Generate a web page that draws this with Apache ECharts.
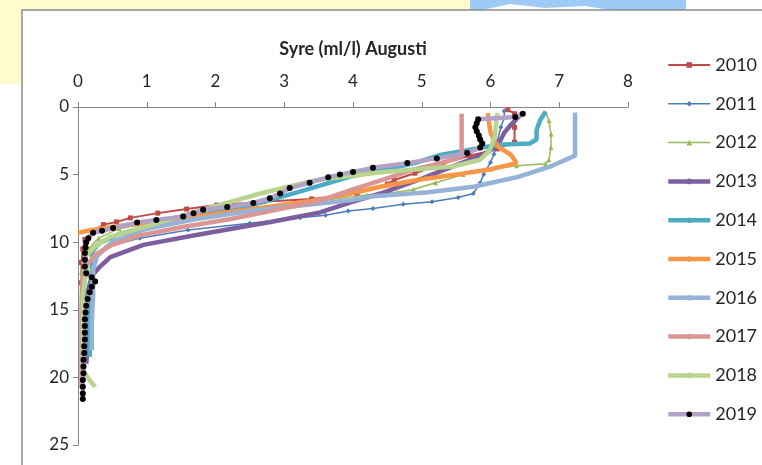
<!DOCTYPE html>
<html>
<head>
<meta charset="utf-8">
<script src="https://cdn.jsdelivr.net/npm/echarts@6/dist/echarts.min.js"></script>
<style>
  html, body { margin: 0; padding: 0; background: #fff; }
  #chart { width: 762px; height: 465px; }
</style>
</head>
<body>
<div id="chart"></div>
<script>
// Years shown in the legend
const years = ['2010', '2011', '2012', '2013', '2014', '2015', '2016', '2017', '2018', '2019'];

// Tick labels of the axes
const oxygenTicks = [0, 1, 2, 3, 4, 5, 6, 7, 8];
const depthTicks = [0, 5, 10, 15, 20, 25];

// Profiles: [oxygen (ml/l), depth (m)]
const p2010 = [[6.25, 0.2], [6.35, 0.5], [6.35, 1.5], [6.35, 2.6], [6.1, 3.1], [5.7, 3.6], [5.3, 4.2], [4.9, 4.9],
    [4.6, 5.4], [4.5, 5.7], [4.06, 6.4], [3.4, 6.8], [2.7, 7.0], [2.02, 7.25], [1.58, 7.55], [1.16, 7.85],
    [0.76, 8.2], [0.56, 8.5], [0.37, 8.7], [0.22, 9.2], [0.1, 9.8], [0.07, 10.5], [0.05, 11.5], [0.05, 13]];
const p2011 = [[6.2, 0.3], [6.2, 0.8], [6.15, 1.5], [6.1, 2.5], [6.05, 3.5], [6.0, 4.1], [5.9, 5.0], [5.85, 5.6],
    [5.75, 6.4], [5.53, 6.7], [5.15, 7.0], [4.73, 7.2], [4.29, 7.5], [3.93, 7.7], [3.6, 8.0], [3.23, 8.2],
    [2.5, 8.6], [1.6, 9.1], [0.9, 9.7], [0.4, 10.4], [0.2, 11], [0.12, 12], [0.1, 14], [0.1, 16], [0.1, 18]];
const p2012 = [[6.8, 0.4], [6.85, 1.0], [6.88, 2.0], [6.88, 3.0], [6.85, 3.9], [6.8, 4.2], [6.38, 4.35], [6.0, 4.6],
    [5.6, 5.0], [5.2, 5.6], [4.88, 6.1], [4.64, 6.3], [4.2, 6.5], [3.4, 7.0], [2.6, 7.5], [1.8, 8.0],
    [1.1, 8.5], [0.6, 9.0], [0.3, 9.7], [0.15, 10.5], [0.1, 11.5], [0.05, 12.2], [0.08, 14], [0.1, 16],
    [0.1, 18], [0.08, 19.5]];
const p2013 = [[6.46, 0.45], [6.3, 1.3], [6.2, 1.9], [6.1, 2.9], [5.9, 3.5], [5.5, 4.3], [5.0, 5.3], [4.4, 6.4],
    [4.0, 7.0], [3.52, 7.8], [2.8, 8.5], [2.36, 8.9], [1.68, 9.5], [0.95, 10.2], [0.47, 11.1], [0.32, 11.8],
    [0.2, 12.5], [0.15, 13.5], [0.15, 15], [0.15, 17], [0.12, 19]];
const p2014 = [[6.8, 0.35], [6.72, 1.0], [6.67, 1.7], [6.67, 2.4], [6.57, 2.7], [6.1, 2.8], [5.27, 3.55],
    [4.93, 4.1], [4.4, 4.7], [3.96, 5.15], [3.2, 6.3], [2.5, 7.3], [1.68, 8.1], [1.1, 8.7], [0.6, 9.4],
    [0.3, 10.1], [0.22, 10.6], [0.2, 11.5], [0.2, 13], [0.17, 14.5], [0.17, 16.5], [0.17, 18.5]];
const p2015 = [[5.96, 0.45], [5.98, 1.2], [6.0, 1.9], [6.1, 2.9], [6.3, 3.55], [6.38, 4.15], [6.0, 4.6],
    [5.5, 5.0], [4.93, 5.4], [4.4, 5.9], [3.96, 6.4], [3.47, 6.9], [2.6, 7.5], [1.4, 8.3], [0.6, 8.8],
    [0.2, 9.1], [0.0, 9.3]];
const p2016 = [[7.23, 0.4], [7.23, 1.5], [7.23, 2.5], [7.23, 3.6], [6.87, 4.4], [6.38, 5.2], [5.75, 5.9],
    [5.1, 6.3], [4.3, 6.6], [3.96, 6.9], [3.2, 7.3], [2.5, 7.7], [1.7, 8.3], [1.0, 9.0], [0.5, 10.0],
    [0.28, 11.0], [0.22, 12], [0.22, 14], [0.2, 16], [0.2, 18]];
const p2017 = [[5.58, 0.5], [5.58, 1.5], [5.58, 2.5], [5.58, 3.7], [5.27, 4.15], [4.9, 4.6], [4.54, 5.2],
    [4.0, 6.1], [3.47, 7.0], [2.8, 7.7], [2.2, 8.3], [1.5, 8.9], [0.9, 9.5], [0.5, 10.2], [0.25, 10.9],
    [0.12, 11.8], [0.06, 13], [0.05, 15], [0.05, 17], [0.05, 19], [0.05, 20.8]];
const p2018 = [[6.1, 0.45], [6.08, 1.3], [6.06, 2.2], [5.99, 3.2], [5.85, 3.9], [5.45, 4.4], [4.44, 4.8],
    [3.47, 5.4], [2.65, 6.4], [1.68, 7.8], [0.95, 8.9], [0.47, 9.6], [0.25, 10.3], [0.12, 11], [0.08, 11.5],
    [0.15, 12.0], [0.1, 12.8], [0.07, 14], [0.07, 16], [0.07, 18], [0.08, 19.5], [0.15, 20.1], [0.25, 20.7]];
const p2019 = [[6.47, 0.5], [6.36, 0.74], [5.82, 0.9], [5.8, 1.2], [5.78, 1.5], [5.8, 1.8], [5.83, 2.1],
    [5.85, 2.4], [5.88, 2.7], [5.85, 3.0], [5.66, 3.4], [5.22, 3.8], [4.79, 4.15], [4.29, 4.5], [4.0, 4.8],
    [3.81, 5.0], [3.64, 5.2], [3.37, 5.6], [3.08, 6.0], [2.94, 6.4], [2.79, 6.75], [2.55, 7.1], [2.17, 7.4],
    [1.82, 7.6], [1.68, 7.85], [1.53, 8.1], [1.14, 8.35], [0.86, 8.55], [0.51, 8.95], [0.35, 9.15],
    [0.22, 9.3], [0.15, 9.7], [0.12, 10.0], [0.11, 10.4], [0.1, 10.8], [0.1, 11.3], [0.1, 11.8],
    [0.12, 12.3], [0.2, 12.6], [0.25, 12.9], [0.2, 13.3], [0.17, 13.7], [0.14, 14.2], [0.12, 14.7],
    [0.11, 15.2], [0.1, 15.7], [0.1, 16.2], [0.1, 16.7], [0.1, 17.2], [0.09, 17.7], [0.09, 18.2],
    [0.08, 18.7], [0.08, 19.2], [0.08, 19.7], [0.07, 20.2], [0.07, 20.7], [0.07, 21.2], [0.07, 21.6]];

const profiles = [p2010, p2011, p2012, p2013, p2014, p2015, p2016, p2017, p2018, p2019];

// Look of each year: line colour, width, marker
const lineColors = ['#BE4B48', '#4A7EBB', '#98B954', '#7D5FA0', '#4BACC6', '#F79646',
    '#95B3D7', '#D99694', '#B9D48E', '#B3A2C7'];
const lineWidths = [2, 1.5, 1.5, 4.5, 4.5, 4.5, 4.5, 4.5, 4.5, 4.5];
const markers = ['rect', 'diamond', 'triangle', 'none', 'none', 'none', 'none', 'none', 'none', 'circle'];
const markerSizes = [5, 5, 5, 0, 0, 0, 0, 0, 0, 6];
const markerColors = ['#BE4B48', '#4A7EBB', '#98B954', null, null, null, null, null, null, '#000'];

const fontFamily = 'Lato, "Open Sans", sans-serif';
const axisGrey = '#868686';
const textColor = '#262626';

const chart = echarts.init(document.getElementById('chart'));

// One line series per year
const series = years.map((year, i) => ({
    name: year,
    type: 'line',
    data: profiles[i],
    symbol: markers[i],
    symbolSize: markerSizes[i],
    showSymbol: markers[i] !== 'none',
    lineStyle: { color: lineColors[i], width: lineWidths[i] },
    itemStyle: { color: markerColors[i] || lineColors[i] },
    emphasis: { disabled: true },
    z: 2 + i
}));

chart.setOption({
    animation: false,
    backgroundColor: '#fff',
    graphic: [
        // page decorations round the chart frame
        { type: 'rect', shape: { x: 0, y: 0, width: 470, height: 10 }, style: { fill: '#FFFBCF' }, silent: true },
        { type: 'rect', shape: { x: 0, y: 0, width: 22, height: 84 }, style: { fill: '#FFFBCF' }, silent: true },
        {
            type: 'polygon', silent: true,
            shape: { points: [[470, 0], [686, 0], [686, 10], [610, 10], [585, 6], [545, 8], [510, 4], [482, 10], [470, 10]] },
            style: { fill: '#9ECBF5' }
        },
        // chart frame
        {
            type: 'rect', silent: true,
            shape: { x: 22, y: 10, width: 800, height: 500 },
            style: { fill: 'none', stroke: '#8C8C8C', lineWidth: 1.5 }
        }
    ],
    grid: { left: 78, top: 107, width: 550, height: 338 },
    legend: {
        orient: 'vertical',
        left: 661,
        top: 51,
        itemWidth: 42,
        itemHeight: 7,
        itemGap: 20.8,
        data: years,
        lineStyle: { width: 'inherit' },
        textStyle: { fontFamily: fontFamily, fontSize: 18, color: textColor, lineHeight: 16 }
    },
    xAxis: {
        type: 'value',
        position: 'top',
        min: oxygenTicks[0],
        max: oxygenTicks[oxygenTicks.length - 1],
        interval: 1,
        name: 'Syre (ml/l) Augusti',
        nameLocation: 'middle',
        nameGap: 49,
        nameTextStyle: { fontFamily: fontFamily, fontSize: 18, fontWeight: 'bold', color: textColor },
        axisLine: { show: true, lineStyle: { color: axisGrey } },
        axisTick: { show: true, length: 5, lineStyle: { color: axisGrey } },
        axisLabel: { fontFamily: fontFamily, fontSize: 17, color: textColor, margin: 17 },
        splitLine: { show: false }
    },
    yAxis: {
        type: 'value',
        inverse: true,
        min: depthTicks[0],
        max: depthTicks[depthTicks.length - 1],
        interval: 5,
        axisLine: { show: true, lineStyle: { color: axisGrey } },
        axisTick: { show: true, length: 5, lineStyle: { color: axisGrey } },
        axisLabel: { fontFamily: fontFamily, fontSize: 17, color: textColor, margin: 9 },
        splitLine: { show: false }
    },
    series: series
});
</script>
</body>
</html>
